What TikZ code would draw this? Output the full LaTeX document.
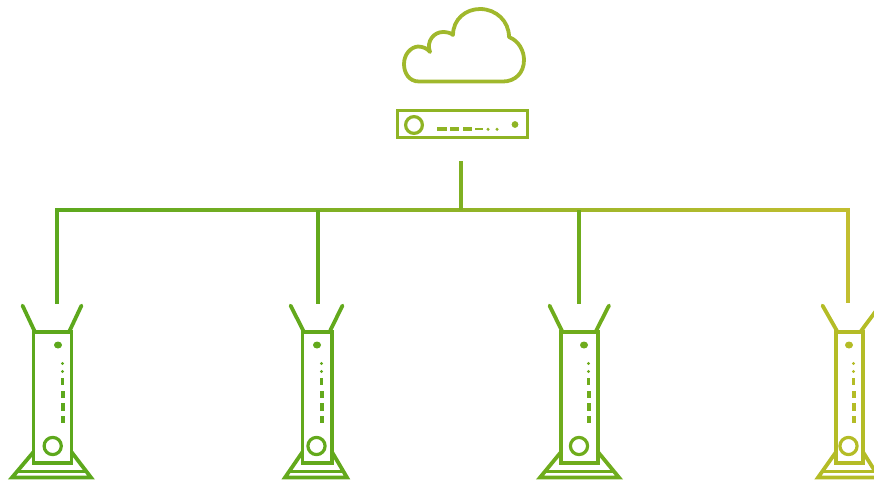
\documentclass[tikz,border=0pt]{standalone}
\definecolor{c1}{HTML}{5DA81C}
\definecolor{c2}{HTML}{63A91C}
\definecolor{c3}{HTML}{6FAC1C}
\definecolor{c4}{HTML}{B4BC26}
\definecolor{cloudc}{HTML}{A0B82C}
\definecolor{srvc}{HTML}{8FB424}
\definecolor{lineL}{HTML}{5CA81E}
\definecolor{lineM}{HTML}{7FB022}
\definecolor{lineR}{HTML}{C2BE30}
\tikzset{
  wire/.style={line width=3.6pt},
  devline/.style={line width=3.8pt,line join=miter},
  rbody/.style={rectangle,draw,line width=3.8pt,inner sep=0pt,minimum height=131pt},
  ant/.style={line width=3.8pt,line cap=round},
  led/.style={line width=4pt},
  srv/.style={rectangle,draw=srvc,line width=3.8pt,inner sep=0pt,minimum width=130pt,minimum height=27pt},
}
\newcommand{\routerdev}[9]{%
  \node[rbody,draw=c#1,minimum width=\dimexpr#3pt-#2pt\relax] (r#1) at ({(#2+#3)/2},397.5) {};
  \draw[ant,c#1] (#2+1,331) -- (#4,305.5);
  \draw[ant,c#1] (#3-2,331) -- (#5,305.5);
  \fill[c#1] (#6,345) ellipse [x radius=4pt,y radius=3.5pt];
  \fill[c#1] (#6+4.5,363.5) circle (1.7pt);
  \fill[c#1] (#6+4.5,371.5) circle (1.7pt);
  \draw[line width=2.2pt,c#1] (#6+4.5,378) -- (#6+4.5,385);
  \draw[led,c#1] (#6+4.5,391) -- (#6+4.5,398);
  \draw[led,c#1] (#6+4.5,403) -- (#6+4.5,411);
  \draw[led,c#1] (#6+4.5,416) -- (#6+4.5,423);
  \draw[line width=3.2pt,c#1] (#7,446) circle (8.6pt);
  \draw[devline,c#1] (#2,452) -- (#8+2,477.5) -- (#9-2,477.5) -- (#3,452);
  \draw[line width=3pt,c#1] (#8+6,471.5) -- (#9-6,471.5);
}
\begin{document}
\begin{tikzpicture}[x=1pt,y=-1pt]
\useasboundingbox (0,0) rectangle (874,482);
\clip (0,0) rectangle (874,482);
% cloud
\draw[cloudc,line width=3.8pt,line join=round] (419,81.5)
  .. controls (409,81.5) and (404,73) .. (404,64)
  .. controls (404,54) and (411,47) .. (418,46.5)
  .. controls (423,46.5) and (428,49) .. (430,52)
  .. controls (426,41) and (434,32) .. (443,32)
  .. controls (447,32) and (451,33) .. (453,35)
  .. controls (453,19) and (466,9) .. (480,9)
  .. controls (496,9) and (509,21) .. (509,37)
  .. controls (519,41) and (524,51) .. (524,60)
  .. controls (524,73) and (515,81.5) .. (503,81.5)
  -- cycle;
% server
\node[srv] (srv) at (462.5,124) {};
\draw[srvc,line width=3.2pt] (414,125) circle (8.4pt);
\fill[srvc] (515,124.5) circle (3.4pt);
\draw[srvc,line width=3.4pt] (437,129) -- (447,129);
\draw[srvc,line width=3.4pt] (450,129) -- (459,129);
\draw[srvc,line width=3.4pt] (463,129) -- (472,129);
\draw[srvc,line width=2.2pt] (475,129) -- (483,129);
\fill[srvc] (488,129.3) circle (1.7pt);
\fill[srvc] (497,129.3) circle (1.7pt);
% routers
\routerdev{1}{33.5}{71.5}{22.5}{81.5}{58}{52.7}{10}{93}
\routerdev{2}{302.5}{332}{290.5}{342.5}{317}{316.5}{283}{349}
\routerdev{3}{561}{598}{549.5}{609}{584}{579}{538}{621}
\routerdev{4}{836}{863}{822.5}{880}{849}{848.5}{816}{881}
% connectors
\coordinate (hub) at (461,210);
\coordinate (srvdrop) at (461,161);
\coordinate (j1) at (57,210);
\coordinate (j2) at (318,210);
\coordinate (j3) at (579,210);
\coordinate (j4) at (848,210);
\coordinate (e1) at (57,304);
\coordinate (e2) at (318,304);
\coordinate (e3) at (579,304);
\coordinate (e4) at (848,303);
\shade[left color=lineL,right color=lineR,shading angle=90] (55.2,208.2) rectangle (849.8,211.8);
\draw[wire,lineM] (srvdrop) -- (hub);
\draw[wire,lineL] (j1) -- (e1);
\draw[wire,c2] (j2) -- (e2);
\draw[wire,c3] (j3) -- (e3);
\draw[wire,lineR] (j4) -- (e4);
\end{tikzpicture}
\end{document}
